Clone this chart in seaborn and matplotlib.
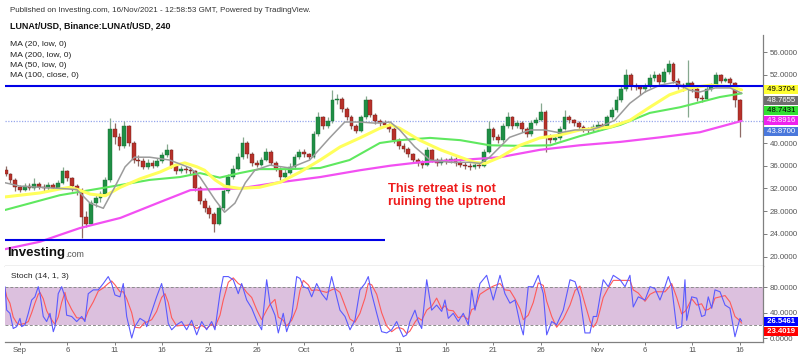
import numpy as np
import matplotlib
matplotlib.use("Agg")
import matplotlib.pyplot as plt
import seaborn as sns
from matplotlib.transforms import blended_transform_factory

sns.set_theme(style="white")
plt.rcParams['font.family'] = ['Liberation Sans', 'DejaVu Sans']

# ---------------- data (days counted from 1 Sep 2021 00:00) ----------------
candle_step_days = 0.5
first_candle_day = -1.5
first_open = 35.2
closes = [
    34.5, 33.5, 32.2, 31.8, 32.5, 32.0, 32.8, 32.3, 32.0, 32.6,
    32.1, 33.0, 35.0, 33.8, 32.4, 31.8, 27.0, 25.8, 29.5, 30.3,
    31.0, 33.5, 42.5, 41.0, 39.5, 43.0, 40.0, 37.0, 36.8, 35.8,
    36.5, 36.0, 36.8, 37.8, 38.8, 36.0, 35.0, 35.5, 35.2, 35.0,
    32.0, 29.8, 28.5, 27.5, 25.8, 28.5, 31.5, 34.0, 35.5, 37.5,
    40.0, 38.0, 36.5, 36.2, 37.0, 38.5, 36.5, 35.5, 34.0, 34.8,
    35.8, 37.5, 38.5, 38.0, 37.5, 41.5, 44.5, 43.0, 43.8, 47.5,
    47.8, 46.0, 44.5, 43.0, 42.2, 44.5, 47.5, 45.0, 43.8, 43.5,
    43.2, 42.5, 40.5, 39.5, 39.0, 38.0, 37.0, 36.5, 36.2, 38.8,
    37.0, 36.5, 37.0, 36.8, 37.2, 36.5, 36.2, 36.0, 35.8, 36.2,
    36.0, 38.5, 42.5, 41.0, 40.5, 43.0, 44.5, 43.0, 43.5, 42.5,
    41.5, 43.5, 44.0, 45.5, 41.0, 40.5, 40.8, 42.5, 44.5, 44.0,
    43.5, 42.8, 42.5, 42.3, 42.8, 43.2, 42.8, 44.5, 45.8, 47.5,
    49.5, 52.0, 50.0, 49.8, 49.5, 50.0, 51.5, 52.0, 50.8, 52.5,
    54.0, 51.0, 50.2, 49.8, 50.5, 49.5, 48.0, 47.8, 49.5, 50.0,
    52.0, 51.0, 51.2, 50.5, 47.5, 43.87,
]
highs = [
    35.9, 34.8, 33.8, 32.6, 33.0, 32.9, 33.8, 33.2, 32.7, 33.2,
    32.9, 33.5, 35.7, 35.3, 34.0, 32.8, 32.0, 28.0, 30.0, 30.8,
    31.6, 34.0, 44.4, 43.5, 41.8, 43.9, 43.2, 40.4, 37.9, 37.3,
    37.2, 37.0, 37.4, 38.4, 39.8, 39.0, 36.3, 36.0, 35.9, 35.8,
    35.2, 32.4, 30.3, 29.0, 27.9, 29.0, 32.0, 34.6, 36.2, 38.2,
    41.0, 40.3, 38.4, 37.0, 37.6, 39.2, 38.8, 36.8, 35.8, 35.4,
    36.4, 38.0, 39.0, 38.9, 38.3, 42.2, 45.5, 44.8, 44.5, 49.3,
    48.6, 48.1, 46.3, 44.9, 43.4, 45.0, 48.3, 47.8, 45.3, 44.3,
    44.0, 43.6, 42.8, 40.9, 40.0, 39.3, 38.3, 37.4, 37.0, 39.3,
    39.0, 37.4, 37.6, 37.4, 37.7, 37.5, 36.9, 36.6, 36.4, 36.7,
    36.6, 39.0, 43.8, 42.8, 41.6, 43.6, 45.5, 44.8, 44.1, 43.8,
    42.8, 44.0, 44.6, 47.0, 45.8, 41.5, 41.3, 43.0, 45.8, 44.9,
    44.3, 43.8, 43.2, 42.9, 43.4, 43.8, 43.5, 45.0, 46.4, 48.2,
    50.3, 53.0, 52.3, 50.6, 50.2, 50.6, 52.2, 52.6, 52.3, 53.2,
    54.6, 54.2, 51.4, 50.6, 54.6, 50.9, 49.8, 48.5, 50.0, 50.5,
    52.5, 52.2, 51.7, 51.6, 50.8, 47.8,
]
lows = [
    34.2, 33.0, 31.6, 31.4, 31.5, 31.7, 31.8, 31.9, 31.6, 31.8,
    31.8, 31.9, 32.8, 33.3, 31.6, 30.8, 23.3, 25.2, 25.5, 28.8,
    29.6, 30.6, 33.2, 39.8, 38.8, 39.2, 39.5, 36.5, 36.0, 35.4,
    35.5, 35.6, 35.8, 36.5, 37.5, 35.6, 34.6, 34.7, 34.8, 34.5,
    31.5, 29.2, 27.8, 26.8, 24.3, 25.5, 28.2, 31.2, 33.6, 35.2,
    37.2, 37.4, 36.0, 35.7, 35.9, 36.8, 36.1, 35.0, 33.5, 33.7,
    34.5, 35.5, 37.2, 37.6, 37.1, 37.3, 41.2, 42.5, 42.6, 43.5,
    46.8, 45.5, 44.0, 42.4, 41.8, 42.0, 44.2, 44.6, 43.3, 43.0,
    42.8, 42.0, 40.0, 39.0, 38.5, 37.5, 36.5, 35.9, 35.6, 36.0,
    36.6, 35.9, 36.2, 36.3, 36.5, 36.0, 35.7, 35.4, 35.3, 35.5,
    35.6, 35.8, 38.2, 40.5, 40.0, 40.2, 42.7, 42.5, 42.6, 42.0,
    41.0, 41.2, 43.2, 43.8, 38.4, 40.0, 40.2, 40.5, 42.3, 43.5,
    43.0, 42.3, 42.0, 41.8, 42.0, 42.5, 42.3, 42.6, 44.2, 45.5,
    47.2, 49.2, 49.4, 49.3, 48.4, 49.0, 49.7, 51.0, 50.3, 50.5,
    52.2, 50.6, 49.6, 49.2, 44.6, 49.0, 47.4, 47.3, 47.5, 49.2,
    49.8, 50.5, 50.7, 50.0, 46.3, 41.0,
]

ma20_day = [-1.58, 0.0, 2.1, 4.2, 6.0, 7.4, 8.8, 10.0, 11.1, 12.1,
            13.7, 15.8, 18.0, 19.0, 20.6, 21.6, 22.7, 23.8, 24.8, 26.4,
            28.5, 30.6, 32.7, 34.3, 35.9, 37.5, 39.1, 40.1, 41.7, 43.3,
            45.4, 47.5, 48.6, 49.6, 51.7, 53.9, 55.4, 57.0, 58.6, 60.2,
            61.2, 62.8, 64.4, 66.0, 67.6, 69.2, 70.7, 71.8, 73.4, 75.0, 76.2]
ma20_val = [33.0, 32.4, 32.2, 32.0, 31.8, 29.4, 28.5, 32.2, 35.8, 37.5,
            37.5, 37.0, 35.6, 34.0, 30.0, 27.8, 29.4, 33.0, 35.2, 36.1,
            35.6, 37.0, 40.9, 43.7, 43.7, 43.5, 43.7, 42.3, 39.3, 37.0,
            36.6, 36.6, 36.4, 37.5, 41.0, 42.3, 42.3, 41.8, 42.3, 42.3,
            42.8, 44.0, 47.0, 49.0, 50.2, 50.7, 49.3, 49.0, 49.7, 49.7, 48.77]
ma50_day = [-1.58, 2.1, 4.2, 5.3, 6.3, 7.4, 9.0, 10.6, 12.7, 14.8,
            16.4, 17.4, 18.7, 19.5, 20.6, 21.6, 23.2, 25.3, 27.5, 29.6,
            31.7, 33.8, 35.9, 38.0, 39.1, 40.1, 42.2, 44.4, 46.5, 48.0,
            49.1, 50.7, 52.8, 54.9, 57.0, 59.1, 62.3, 64.4, 66.5, 68.6,
            70.7, 72.9, 75.0, 76.2]
ma50_val = [30.5, 31.2, 31.9, 32.2, 31.7, 31.0, 30.7, 32.2, 33.7, 34.9,
            36.1, 36.5, 35.8, 35.2, 33.5, 32.4, 32.0, 32.2, 33.1, 34.9,
            37.0, 39.3, 40.9, 42.6, 43.2, 42.6, 40.5, 38.8, 37.5, 36.6,
            36.4, 37.5, 39.6, 40.9, 41.4, 42.3, 42.8, 44.0, 46.3, 48.5,
            49.7, 50.2, 49.9, 49.37]
ma100_day = [-1.58, 1.1, 4.2, 7.4, 10.6, 13.7, 16.9, 19.0, 21.1, 23.2,
             25.3, 28.5, 31.7, 34.8, 36.4, 38.0, 40.1, 43.3, 46.5, 49.6,
             52.8, 56.0, 59.1, 63.4, 66.5, 69.7, 71.8, 73.9, 76.2]
ma100_val = [28.2, 29.4, 30.8, 31.7, 32.6, 33.5, 34.0, 34.7, 33.9, 34.7,
             35.4, 35.4, 35.6, 37.0, 38.5, 40.0, 40.5, 40.9, 40.5, 39.6,
             39.5, 39.6, 41.2, 43.2, 45.3, 46.3, 47.2, 48.1, 48.74]
ma200_day = [-1.58, 2.1, 6.3, 10.6, 14.8, 18.0, 19.0, 23.2, 27.5, 31.7,
             35.9, 39.1, 42.2, 46.5, 50.7, 54.9, 59.1, 63.4, 67.6, 71.8, 76.2]
ma200_val = [21.3, 22.6, 25.0, 26.8, 29.6, 31.7, 31.8, 32.0, 33.1, 34.0,
             35.2, 36.0, 36.6, 37.0, 37.5, 38.8, 39.6, 40.2, 41.0, 41.9, 43.89]

resistance_level = 50.1
support_level = 22.9
support_end_day = 38.5
last_marker = 43.89

stoch_day = [
    -1.58, -1.40, -1.06, -0.71, -0.35, 0.00, 0.18, 0.53, 0.88, 1.24,
    1.58, 1.93, 2.11, 2.46, 2.82, 3.17, 3.52, 3.70, 4.04, 4.40,
    4.75, 4.93, 5.46, 5.99, 6.52, 6.86, 7.21, 7.74, 8.27, 8.80,
    9.32, 9.68, 10.03, 10.56, 10.91, 11.27, 11.80, 12.14, 12.67, 13.20,
    13.38, 13.91, 14.43, 14.96, 15.31, 15.66, 16.02, 16.55, 17.07, 17.60,
    18.13, 18.66, 19.19, 19.71, 20.24, 20.59, 21.12, 21.47, 22.00, 22.52,
    23.05, 23.41, 23.94, 24.47, 24.99, 25.52, 26.05, 26.40, 26.93, 27.28,
    27.80, 28.16, 28.69, 29.22, 29.57, 29.92, 30.44, 30.80, 31.33, 31.86,
    32.39, 32.91, 33.26, 33.79, 34.32, 34.85, 35.37, 35.90, 36.43, 36.78,
    37.14, 37.67, 38.19, 38.72, 39.25, 39.78,
    40.13, 40.48, 40.83, 41.18, 41.71, 42.06, 42.42, 42.95, 43.47, 44.00,
    44.53, 44.88, 45.23, 45.75, 46.28, 46.81, 47.34, 47.70, 48.05, 48.57,
    49.28, 49.98, 50.69, 51.21, 51.74, 52.27, 52.80, 53.15, 53.67, 54.20,
    54.73, 55.26, 55.62, 56.15, 56.67, 57.37, 58.08, 58.61, 59.13, 59.66,
    60.19, 60.54, 60.90, 61.25, 61.59, 62.12, 62.65, 63.36, 63.89, 64.41,
    64.76, 65.29, 66.00, 66.53, 67.05, 67.58, 68.11, 68.46, 68.82, 69.35,
    69.87, 70.22, 70.40, 70.93, 71.46, 71.98, 72.33, 72.68, 73.04, 73.39,
    73.92, 74.45, 74.97, 75.50, 76.03, 76.21,
]
stoch_k = [
    81, 44, 39, 15, 18, 31, 18, 21, 39, 60,
    65, 81, 70, 34, 26, 39, 10, 18, 70, 81,
    65, 36, 34, 26, 34, 26, 70, 76, 76, 86,
    97, 86, 68, 65, 86, 34, 0, 18, 31, 26,
    18, 42, 65, 86, 60, 23, 13, 21, 26, 13,
    28, 5, 26, 13, 26, 13, 70, 97, 97, 92,
    70, 86, 60, 47, 28, 13, 92, 55, 36, 8,
    39, 10, 34, 97, 94, 81, 78, 65, 86, 70,
    60, 97, 76, 44, 34, 13, 28, 76, 86, 97,
    70, 39, 10, 8, 13, 26,
    13, 2, 5, 26, 44, 26, 15, 92, 44, 52,
    42, 60, 31, 39, 26, 39, 21, 76, 44, 86,
    99, 60, 99, 70, 55, 60, 23, 5, 81, 81,
    99, 70, 5, 26, 21, 44, 92, 89, 65, 8,
    8, 34, 34, 65, 92, 81, 99, 92, 81, 99,
    49, 65, 60, 81, 78, 60, 81, 97, 81, 15,
    18, 92, 28, 65, 63, 34, 36, 65, 47, 76,
    73, 52, 47, 2, 31, 26.5461,
]
stoch_d = [
    78, 65, 55, 33, 24, 21, 22, 23, 26, 40,
    55, 69, 72, 62, 43, 33, 25, 22, 33, 56,
    72, 61, 45, 32, 31, 29, 43, 57, 74, 79,
    86, 90, 84, 73, 73, 62, 40, 17, 16, 25,
    25, 29, 42, 64, 70, 56, 32, 19, 20, 20,
    22, 15, 20, 15, 22, 17, 36, 60, 88, 95,
    86, 83, 72, 64, 45, 29, 44, 53, 61, 33,
    28, 19, 28, 47, 75, 91, 84, 75, 76, 74,
    72, 76, 78, 72, 51, 30, 25, 39, 63, 86,
    84, 69, 40, 19, 10, 16,
    16, 14, 7, 11, 25, 32, 28, 44, 50, 63,
    46, 51, 44, 43, 32, 35, 29, 45, 47, 69,
    76, 82, 86, 76, 75, 62, 46, 29, 36, 56,
    87, 83, 58, 34, 17, 30, 52, 75, 82, 54,
    27, 17, 25, 44, 64, 79, 91, 91, 91, 91,
    76, 71, 58, 69, 73, 73, 73, 79, 86, 64,
    38, 42, 46, 62, 52, 54, 44, 45, 49, 63,
    65, 67, 57, 34, 27, 23.4019,
]

tick_days = [0, 5, 10, 15, 20, 25, 30, 35, 40, 45, 50, 55, 61, 66, 71, 76]
tick_labels = ["Sep", "6", "11", "16", "21", "26", "Oct", "6", "11", "16",
               "21", "26", "Nov", "6", "11", "16"]
price_ticks = [20, 24, 28, 32, 36, 40, 44, 48, 52, 56]
stoch_ticks = [0, 40, 80]

# labels shown at the right edge: (value, background, text colour)
price_tags = [(49.3704, "#ffff33", "black"), (48.7655, "#6e6e6e", "white"),
              (48.7431, "#33e033", "black"), (43.8916, "#ee22ee", "white"),
              (43.8700, "#4a78dc", "white")]
stoch_tags = [(26.5461, "#0000ff", "white"), (23.4019, "#ff0000", "white")]

# ---------------- figure ----------------
W, H = 800, 357
fig = plt.figure(figsize=(W / 100, H / 100), dpi=100)


def fx(p):
    return p / W


def fy(p):
    return 1 - p / H


ax = fig.add_axes([fx(5), fy(266), fx(763) - fx(5), fy(35) - fy(266)])
ax2 = fig.add_axes([fx(5), fy(342), fx(763) - fx(5), fy(266) - fy(342)], sharex=ax)

c = np.array(closes)
o = np.array([first_open] + closes[:-1])
hi = np.array(highs)
lo = np.array(lows)
d = first_candle_day + candle_step_days * np.arange(len(c))
up = c >= o
body_col = np.where(up, "#1f8f45", "#b8312a")
wick_col = np.where(up, "#86a88f", "#8f6b66")

ax.vlines(d, lo, hi, colors=wick_col, linewidth=0.9, zorder=3)
ax.bar(d, np.maximum(np.abs(c - o), 0.15), bottom=np.minimum(o, c), width=0.4,
       color=body_col, edgecolor=np.where(up, "#176b34", "#6b1e19"),
       linewidth=0.3, zorder=4)

sns.lineplot(x=ma200_day, y=ma200_val, ax=ax, color="#f24ff2", linewidth=1.6, zorder=5)
sns.lineplot(x=ma100_day, y=ma100_val, ax=ax, color="#5fe85f", linewidth=1.5, zorder=5)
sns.lineplot(x=ma50_day, y=ma50_val, ax=ax, color="#ffff5c", linewidth=2.2, zorder=5)
sns.lineplot(x=ma20_day, y=ma20_val, ax=ax, color="#9b9b9b", linewidth=1.1, zorder=6)

ax.axhline(resistance_level, color="#0000e6", linewidth=1.5, zorder=7)
ax.hlines(support_level, -1.58, support_end_day, color="#0000e6", linewidth=1.5, zorder=7)
ax.axhline(last_marker, color="#97a6ec", linewidth=0.9, linestyle=(0, (1, 1.2)), zorder=2)

# positions of the value tags at the right edge (stacked so they do not collide)
gap = 1.82
tag_pos = []
for val, _, _ in price_tags:
    tag_pos.append(val if not tag_pos else min(val, tag_pos[-1] - gap))

ax.set_xlim(-1.58, 78.46)
ax.set_ylim(18.33, 59.03)
ax.set_yticks(price_ticks)
ax.set_yticklabels(["" if any(abs(v - p) < 1.6 for p in tag_pos) else f"{v:.4f}"
                    for v in price_ticks])
ax.yaxis.tick_right()
ax.tick_params(axis="y", labelsize=5.7, colors="#666666", labelcolor="#555555",
               length=3, width=0.6, pad=2, right=True, left=False)
ax.tick_params(axis="x", bottom=False, labelbottom=False)
ax.set_xlabel("")
ax.set_ylabel("")
for s in ["left", "top"]:
    ax.spines[s].set_visible(False)
for s in ["right", "bottom"]:
    ax.spines[s].set_color("#808080")
    ax.spines[s].set_linewidth(0.9)

tag_box = dict(boxstyle="square,pad=0.12", ec="none")
trans = blended_transform_factory(ax.transAxes, ax.transData)
for (val, bg, tc), pos in zip(price_tags, tag_pos):
    ax.text(1.002, pos, f" {val:.4f} ", transform=trans, fontsize=5.6, color=tc,
            va="center", ha="left", clip_on=False, zorder=20,
            bbox=dict(tag_box, fc=bg))

# ---------------- stochastic panel ----------------
ax2.axhspan(20, 80, color="#dcc0de", zorder=1, linewidth=0)
ax2.axhline(80, color="#8c8c8c", linestyle=(0, (3, 2)), linewidth=0.7, zorder=2)
ax2.axhline(20, color="#8c8c8c", linestyle=(0, (3, 2)), linewidth=0.7, zorder=2)
sns.lineplot(x=stoch_day, y=stoch_d, ax=ax2, color="#ff5a5a", linewidth=0.8, zorder=3)
sns.lineplot(x=stoch_day, y=stoch_k, ax=ax2, color="#5a5aff", linewidth=0.8, zorder=4)
ax2.set_ylim(-6.3, 113.7)
ax2.set_yticks(stoch_ticks)
ax2.set_yticklabels([f"{v:.4f}" for v in stoch_ticks])
ax2.yaxis.tick_right()
ax2.tick_params(axis="y", labelsize=5.7, colors="#666666", labelcolor="#555555",
                length=3, width=0.6, pad=2, right=True, left=False)
ax2.set_xticks(tick_days)
ax2.set_xticklabels(tick_labels)
ax2.tick_params(axis="x", labelsize=5.7, colors="#666666", labelcolor="#555555",
                length=2, width=0.6, pad=1.5, bottom=True)
ax2.set_xlabel("")
ax2.set_ylabel("")
for s in ["left", "top"]:
    ax2.spines[s].set_visible(False)
for s in ["right", "bottom"]:
    ax2.spines[s].set_color("#808080")
    ax2.spines[s].set_linewidth(0.9)

trans2 = blended_transform_factory(ax2.transAxes, ax2.transData)
prev = None
for val, bg, tc in stoch_tags:
    pos = val if prev is None else min(val, prev - 16.5)
    prev = pos
    ax2.text(1.002, pos, f" {val:.4f} ", transform=trans2, fontsize=5.6, color=tc,
             va="center", ha="left", clip_on=False, zorder=20, fontweight="bold",
             bbox=dict(tag_box, fc=bg))

# ---------------- texts ----------------
fig.text(fx(10), fy(10), "Published on Investing.com, 16/Nov/2021 - 12:58:53 GMT, Powered by TradingView.",
         fontsize=5.8, color="#333333", va="center", ha="left")
fig.text(fx(10), fy(26), "LUNAt/USD, Binance:LUNAt/USD, 240",
         fontsize=6.4, color="#111111", fontweight="bold", va="center", ha="left")
for i, t in enumerate(["MA (20, low, 0)", "MA (200, low, 0)", "MA (50, low, 0)", "MA (100, close, 0)"]):
    fig.text(fx(10), fy(45 + 10.3 * i), t, fontsize=6.1, color="#222222", va="center", ha="left")
fig.text(fx(11), fy(276), "Stoch (14, 1, 3)", fontsize=6.0, color="#222222", va="center", ha="left")
fig.text(fx(7), fy(253), "Investing", fontsize=9.5, fontweight="bold", color="#111111",
         va="center", ha="left")
fig.text(fx(65), fy(254.5), ".com", fontsize=6.3, color="#555555", va="center", ha="left")
fig.text(fx(388), fy(195.5), "This retreat is not\nruining the uptrend", fontsize=9.3,
         fontweight="bold", color="#ee1c1c", va="center", ha="left", linespacing=1.15)

fig.savefig("out.png", dpi=100)
